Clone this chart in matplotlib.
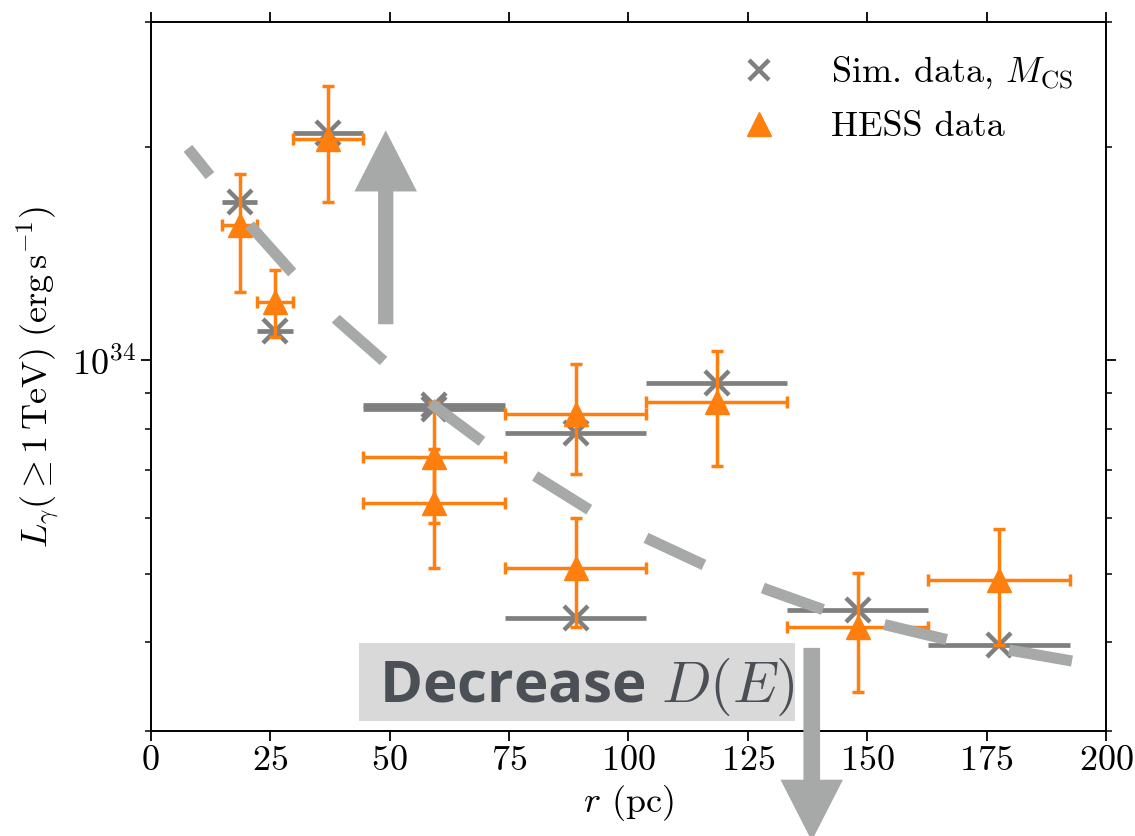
import numpy as np
import matplotlib
matplotlib.use('Agg')
import matplotlib.pyplot as plt
from matplotlib.lines import Line2D
from matplotlib.patches import Rectangle
from matplotlib.ticker import NullFormatter, FixedLocator

plt.rcParams['font.family'] = 'serif'
plt.rcParams['font.serif'] = ['cmr10', 'DejaVu Serif']
plt.rcParams['mathtext.fontset'] = 'cm'
plt.rcParams['axes.formatter.use_mathtext'] = True
plt.rcParams['axes.unicode_minus'] = False

# radial bins (pc)
r_lo = [14.9, 22.3, 29.7, 44.5, 44.5, 74.2, 74.2, 103.7, 133.2, 162.7]
r_hi = [22.3, 29.7, 44.5, 74.2, 74.2, 103.7, 103.7, 133.2, 162.7, 192.5]
r_mid = [18.6, 26.0, 37.1, 59.3, 59.3, 89.0, 89.0, 118.5, 148.0, 177.6]

# simulated luminosity, M_CS
sim_L = [1.67e34, 1.10e34, 2.09e34, 8.65e33, 8.54e33, 7.89e33, 4.33e33, 9.29e33, 4.44e33, 3.97e33]

# HESS luminosity and error range
hess_L = [1.55e34, 1.21e34, 2.05e34, 7.31e33, 6.30e33, 8.41e33, 5.09e33, 8.72e33, 4.20e33, 4.90e33]
hess_hi = [1.83e34, 1.34e34, 2.44e34, 8.73e33, 7.49e33, 9.89e33, 5.99e33, 1.03e34, 5.01e33, 5.79e33]
hess_lo = [1.25e34, 1.08e34, 1.67e34, 5.90e33, 5.10e33, 6.91e33, 4.21e33, 7.10e33, 3.40e33, 3.97e33]

# dashed trend curve
trend_r = [7.8, 20.8, 29.6, 39.0, 48.6, 58.9, 69.6, 80.9, 92.4, 104.1, 116.5,
           129.0, 141.6, 154.8, 167.8, 180.9, 195.4]
trend_L = [1.99e34, 1.55e34, 1.33e34, 1.14e34, 1.00e34, 8.67e33, 7.66e33, 6.84e33,
           6.12e33, 5.60e33, 5.12e33, 4.75e33, 4.43e33, 4.22e33, 4.02e33, 3.89e33, 3.74e33]

gray = '#7f7f7f'
orange = '#ff7f0e'
light = '#a6a9a7'

r_mid = np.array(r_mid)
xerr = [r_mid - np.array(r_lo), np.array(r_hi) - r_mid]
hess_L = np.array(hess_L)
yerr = [hess_L - np.array(hess_lo), np.array(hess_hi) - hess_L]

fig = plt.figure(figsize=(11.35, 8.36), dpi=100)
ax = fig.add_axes([0.1328, 0.1256, 0.8416, 0.8481])

ax.errorbar(r_mid, sim_L, xerr=xerr, fmt='x', color=gray, ms=17, mew=3.2,
            elinewidth=3.4, capsize=0, zorder=2)
ax.errorbar(r_mid, hess_L, xerr=xerr, yerr=yerr, fmt='^', color=orange, ms=17,
            elinewidth=2.5, capsize=4, capthick=2.5, zorder=3)

ax.plot(trend_r, trend_L, color=light, lw=8, solid_capstyle='butt',
        dash_capstyle='butt', linestyle=(2.6, (5.75, 5.7)), zorder=4)

# arrows
ax.annotate('', xy=(49.2, 2.11e34), xytext=(49.2, 1.124e34),
            arrowprops=dict(arrowstyle='simple,head_length=44,head_width=45,tail_width=11',
                            mutation_scale=1, color=light, lw=0, shrinkA=0, shrinkB=0),
            zorder=5)
ax.annotate('', xy=(138.4, 2.1e33), xytext=(138.4, 3.93e33),
            arrowprops=dict(arrowstyle='simple,head_length=44,head_width=45,tail_width=12',
                            mutation_scale=1, color=light, lw=0, shrinkA=0, shrinkB=0),
            annotation_clip=False, zorder=5)

# label box
ax.add_patch(Rectangle((43.6, 3.10e33), 134.9 - 43.6, 3.99e33 - 3.10e33,
                       fc='#d9d9d9', ec='none', zorder=6))
ax.text(91.4, 3.30e33, r'Decrease $D(E)$', fontsize=42, color='#4b4f56',
        family=['Open Sans', 'DejaVu Sans'], fontweight='bold', ha='center',
        va='baseline', zorder=7)

ax.set_yscale('log')
ax.set_xlim(0, 200)
ax.set_ylim(3e33, 3e34)
ax.xaxis.set_major_locator(FixedLocator([0, 25, 50, 75, 100, 125, 150, 175, 200]))
ax.yaxis.set_minor_formatter(NullFormatter())

ax.tick_params(which='both', direction='out', top=True, right=True, labelsize=26)
ax.tick_params(which='major', length=7, width=1.3)
ax.tick_params(which='minor', length=4, width=1.1)
for s in ax.spines.values():
    s.set_linewidth(1.4)

ax.set_xlabel(r'$r$ (pc)', fontsize=26, labelpad=4)
ax.set_ylabel(r'$L_\gamma(\geq 1\,\mathrm{TeV})\ (\mathrm{erg\,s^{-1}})$', fontsize=26, labelpad=8)

handles = [Line2D([], [], marker='x', ls='none', color=gray, ms=15, mew=3.2),
           Line2D([], [], marker='^', ls='none', color=orange, ms=17)]
ax.legend(handles, [r'Sim. data, $M_{\rm CS}$', 'HESS data'], loc='upper right',
          frameon=False, fontsize=26, handlelength=1.4, handletextpad=1.3,
          labelspacing=0.55, bbox_to_anchor=(1.0, 1.0))

fig.savefig('out.png', dpi=100)
